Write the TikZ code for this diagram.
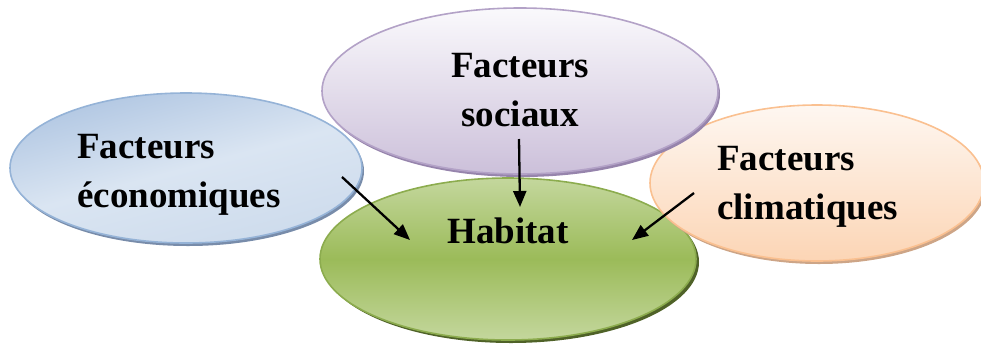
\documentclass[tikz,border=0pt]{standalone}
\usepackage{fontspec}
\setmainfont{Liberation Serif}
\usetikzlibrary{shapes.geometric,arrows.meta,shadows}
\definecolor{bTop}{RGB}{176,198,226}
\definecolor{bMid}{RGB}{218,229,242}
\definecolor{bBot}{RGB}{205,219,236}
\definecolor{bLine}{RGB}{149,179,215}
\definecolor{bShad}{RGB}{120,140,170}
\definecolor{pTop}{RGB}{250,249,252}
\definecolor{pBot}{RGB}{204,192,218}
\definecolor{pLine}{RGB}{179,162,199}
\definecolor{pShad}{RGB}{150,132,172}
\definecolor{gTop}{RGB}{196,215,157}
\definecolor{gMid}{RGB}{155,187,89}
\definecolor{gBot}{RGB}{196,215,157}
\definecolor{gLine}{RGB}{140,172,78}
\definecolor{gShad}{RGB}{79,98,40}
\definecolor{oTop}{RGB}{254,247,241}
\definecolor{oBot}{RGB}{252,213,181}
\definecolor{oLine}{RGB}{250,192,144}
\definecolor{oShad}{RGB}{205,165,135}
\tikzset{
  blob/.style={ellipse, inner sep=0pt, line width=1.6pt},
  lbl/.style={font=\bfseries\fontsize{37}{44}\selectfont, inner sep=0pt},
  arr/.style={line width=2.3pt, -{Triangle[length=16pt,width=13pt]}}
}
\begin{document}
\begin{tikzpicture}[x=1pt,y=-1pt]
\useasboundingbox (0,0) rectangle (981,349);
% green (back)
\node[blob, minimum width=376pt, minimum height=162pt, draw=gLine,
  top color=gTop, bottom color=gBot, middle color=gMid,
  drop shadow={shadow xshift=3pt, shadow yshift=-3pt, fill=gShad, opacity=1}]
  (hab) at (508,259) {};
% orange
\node[blob, minimum width=334pt, minimum height=156pt, draw=oLine,
  top color=oTop, bottom color=oBot,
  drop shadow={shadow xshift=2pt, shadow yshift=-3pt, fill=oShad, opacity=1}]
  (cli) at (817,183) {};
% purple
\node[blob, minimum width=396pt, minimum height=166pt, draw=pLine,
  top color=pTop, bottom color=pBot,
  drop shadow={shadow xshift=2pt, shadow yshift=-3pt, fill=pShad, opacity=1}]
  (soc) at (520,91) {};
% blue
\node[blob, minimum width=352pt, minimum height=150pt, draw=bLine,
  shading=axis, top color=bTop, bottom color=bBot, middle color=bMid, shading angle=15,
  drop shadow={shadow xshift=2pt, shadow yshift=-3pt, fill=bShad, opacity=1}]
  (eco) at (186,168) {};
% texts
\node[lbl, anchor=base west] (eco1) at (77,158) {Facteurs};
\node[lbl, anchor=base west] (eco2) at (77,207) {économiques};
\node[lbl, anchor=base] (soc1) at (520,77) {Facteurs};
\node[lbl, anchor=base] (soc2) at (520,126) {sociaux};
\node[lbl, anchor=base] (hab1) at (508,243) {Habitat};
\node[lbl, anchor=base west] (cli1) at (717,170) {Facteurs};
\node[lbl, anchor=base west] (cli2) at (717,219) {climatiques};
% arrows
\coordinate (e0) at (342,177);
\coordinate (e1) at (410,240);
\coordinate (s0) at (519,139);
\coordinate (s1) at (520,207);
\coordinate (c0) at (694,193);
\coordinate (c1) at (632,240);
\draw[arr] (e0) -- (e1);
\draw[arr] (s0) -- (s1);
\draw[arr] (c0) -- (c1);
\end{tikzpicture}
\end{document}
